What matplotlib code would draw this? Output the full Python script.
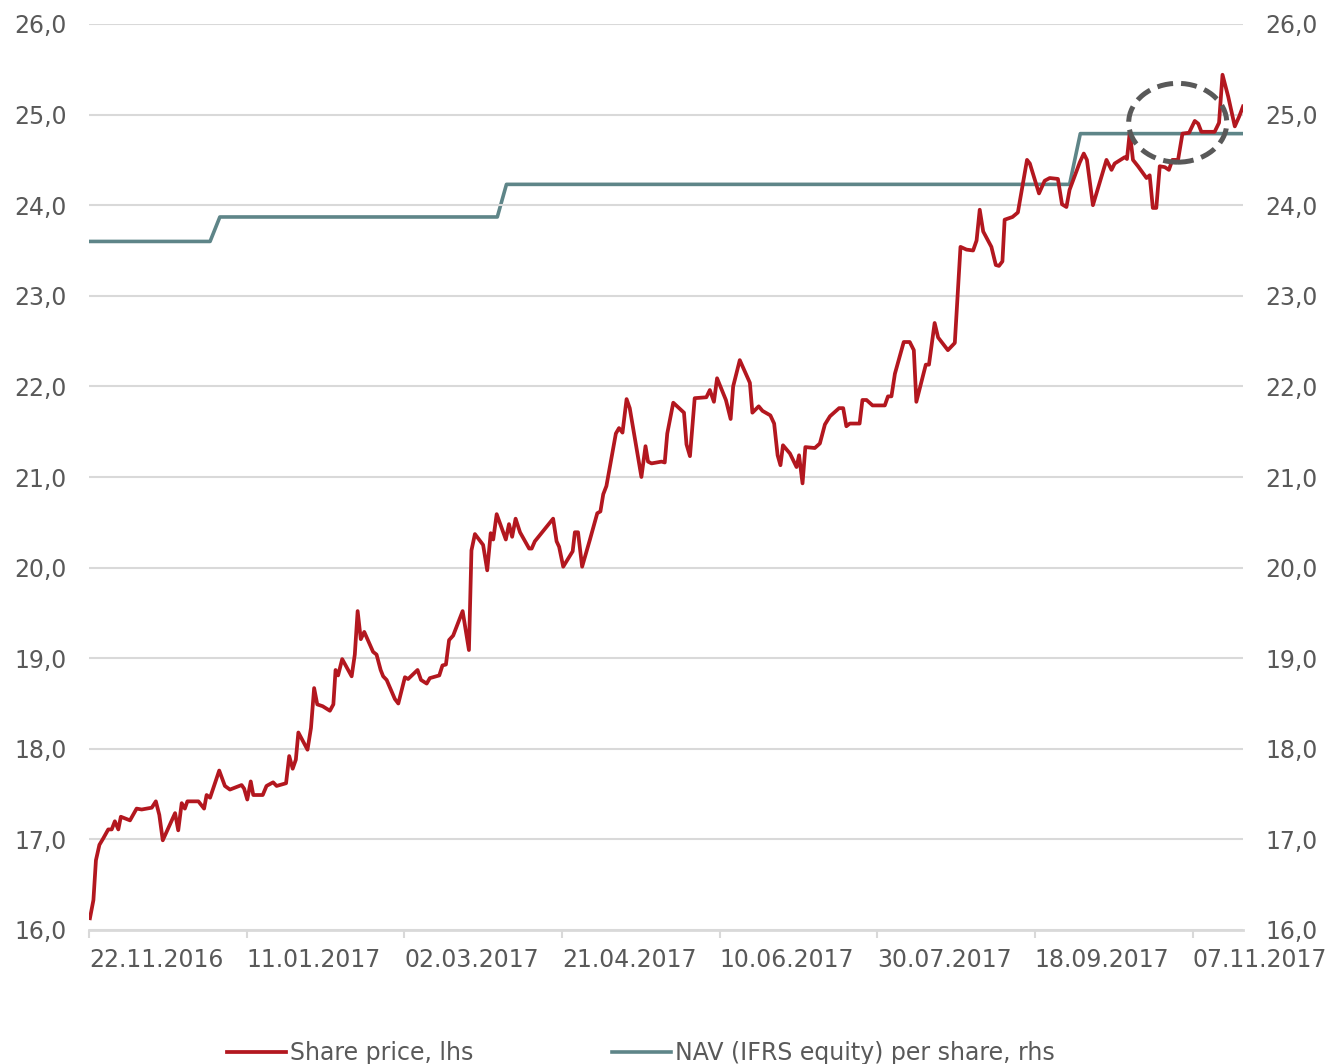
import matplotlib
matplotlib.use('Agg')
import matplotlib.pyplot as plt
from matplotlib.patches import Ellipse
from matplotlib.ticker import FuncFormatter

# days after 22.11.2016 and share price (lhs)
price_day = [0.3, 1.4, 2.2, 3.3, 4.5, 6.1, 7.2, 8.2, 9.3, 10.1, 13.0, 15.1, 16.7, 19.9, 21.2,
             22.3, 23.4, 27.3, 28.3, 29.4, 30.4, 31.2, 34.7, 36.5, 37.3, 38.4, 41.3, 43.1, 44.7,
             48.4, 49.2, 50.2, 51.3, 52.1, 55.1, 56.3, 58.4, 59.5, 62.5, 63.5, 64.6, 65.6, 66.4,
             69.3, 70.4, 71.4, 72.4, 74.1, 76.4, 77.5, 78.2, 79.0, 80.3, 83.3, 84.3, 85.2, 86.2,
             87.3, 90.1, 91.2, 92.5, 93.3, 94.4, 97.0, 98.1, 100.2, 101.2, 104.2, 105.3, 107.1,
             108.1, 111.1, 112.1, 113.2, 114.2, 115.5, 118.5, 120.5, 121.3, 122.4, 125.0, 126.3,
             127.4, 128.2, 129.3, 132.2, 133.2, 134.2, 135.3, 136.7, 139.6, 140.4, 141.4, 147.2,
             148.3, 149.1, 150.4, 153.4, 154.1, 155.1, 156.4, 158.8, 161.2, 162.2, 163.1, 164.1,
             167.1, 168.1, 169.2, 170.5, 171.5, 175.2, 176.5, 177.3, 178.4, 181.6, 182.6, 183.4,
             185.3, 188.7, 189.5, 190.6, 192.1, 195.8, 196.9, 198.2, 199.2, 202.0, 203.5, 204.3,
             206.4, 209.6, 210.4, 212.4, 213.6, 216.1, 217.3, 218.4, 219.3, 220.1, 222.3, 224.4,
             225.2, 226.3, 227.2, 230.2, 231.8, 233.4, 235.0, 237.9, 239.2, 240.2, 241.3, 244.4,
             245.3, 246.6, 248.5, 252.4, 253.4, 254.5, 255.6, 258.4, 260.3, 261.6, 262.4, 265.4,
             266.4, 268.2, 269.3, 272.4, 274.6, 276.4, 278.3, 280.4, 281.5, 282.5, 283.6, 286.2,
             287.6, 288.6, 289.7, 290.4, 292.9, 294.6, 297.5, 298.4, 301.3, 303.1, 304.7, 307.3,
             308.6, 310.0, 311.0, 314.2, 315.5, 316.5, 318.4, 322.7, 324.3, 325.3, 328.5, 329.2,
             330.1, 331.1, 332.7, 335.4, 336.4, 337.4, 338.5, 339.6, 341.2, 342.5, 343.6, 345.4,
             346.8, 348.9, 350.7, 351.8, 352.8, 357.0, 358.4, 359.5, 361.3, 363.4, 364.8, 366.0]
price = [16.13, 16.33, 16.77, 16.94, 17.01, 17.11, 17.11, 17.20, 17.11, 17.25, 17.21, 17.34, 17.33,
         17.35, 17.42, 17.27, 16.99, 17.29, 17.10, 17.40, 17.34, 17.42, 17.42, 17.34, 17.49, 17.46,
         17.76, 17.59, 17.55, 17.60, 17.56, 17.44, 17.64, 17.49, 17.49, 17.59, 17.63, 17.59, 17.62,
         17.92, 17.78, 17.88, 18.18, 17.99, 18.23, 18.67, 18.49, 18.47, 18.42, 18.49, 18.87, 18.81,
         18.99, 18.80, 19.04, 19.52, 19.21, 19.29, 19.07, 19.04, 18.87, 18.80, 18.76, 18.55, 18.50,
         18.79, 18.77, 18.87, 18.76, 18.72, 18.78, 18.81, 18.92, 18.93, 19.20, 19.25, 19.52, 19.09,
         20.19, 20.37, 20.25, 19.97, 20.38, 20.31, 20.59, 20.31, 20.48, 20.34, 20.54, 20.39, 20.21,
         20.21, 20.29, 20.54, 20.29, 20.23, 20.01, 20.18, 20.39, 20.39, 20.01, 20.30, 20.60, 20.62,
         20.81, 20.90, 21.48, 21.54, 21.49, 21.86, 21.76, 21.00, 21.34, 21.17, 21.15, 21.17, 21.16,
         21.48, 21.82, 21.71, 21.36, 21.23, 21.87, 21.88, 21.96, 21.83, 22.09, 21.85, 21.64, 22.00,
         22.29, 22.04, 21.71, 21.78, 21.73, 21.68, 21.59, 21.24, 21.13, 21.35, 21.26, 21.11, 21.24,
         20.93, 21.33, 21.32, 21.37, 21.58, 21.67, 21.76, 21.76, 21.56, 21.59, 21.59, 21.85, 21.85,
         21.79, 21.79, 21.89, 21.89, 22.14, 22.49, 22.49, 22.40, 21.83, 22.24, 22.24, 22.70, 22.54,
         22.40, 22.48, 23.54, 23.51, 23.50, 23.61, 23.95, 23.71, 23.54, 23.34, 23.33, 23.38, 23.84,
         23.87, 23.92, 24.50, 24.46, 24.13, 24.27, 24.30, 24.29, 24.01, 23.98, 24.17, 24.47, 24.57,
         24.50, 24.00, 24.50, 24.39, 24.46, 24.53, 24.51, 24.81, 24.50, 24.43, 24.30, 24.33, 23.97,
         23.97, 24.43, 24.42, 24.39, 24.50, 24.50, 24.79, 24.80, 24.93, 24.90, 24.81, 24.81, 24.91,
         25.44, 25.20, 24.87, 24.98, 25.09]

# NAV (IFRS equity) per share (rhs), break points
nav_day = [0.0, 38.4, 41.5, 129.5, 132.4, 311.0, 314.4, 366.0]
nav = [23.60, 23.60, 23.87, 23.87, 24.23, 24.23, 24.79, 24.79]

tick_days = [0, 50, 100, 150, 200, 250, 300, 350]
tick_labels = ['22.11.2016', '11.01.2017', '02.03.2017', '21.04.2017',
               '10.06.2017', '30.07.2017', '18.09.2017', '07.11.2017']

red = '#B3171F'
teal = '#5E8588'
grey_txt = '#595959'
grid = '#D9D9D9'

plt.rcParams['font.family'] = ['DejaVu Sans']
fs = 17

fig = plt.figure(figsize=(13.28, 10.64), dpi=100)
ax = fig.add_axes([89 / 1328, 1 - 930 / 1064, (1243 - 89) / 1328, (930 - 24) / 1064])
ax2 = ax.twinx()

l1, = ax.plot(price_day, price, color=red, lw=2.7, solid_joinstyle='round', zorder=3,
              label='Share price, lhs')
l2, = ax2.plot(nav_day, nav, color=teal, lw=2.6, zorder=2,
               label='NAV (IFRS equity) per share, rhs')
ax.set_zorder(ax2.get_zorder() + 1)
ax.patch.set_visible(False)

fmt = FuncFormatter(lambda v, p: ('%.1f' % v).replace('.', ','))
for a in (ax, ax2):
    a.set_xlim(0, 366)
    a.set_ylim(16, 26)
    a.set_yticks(range(16, 27))
    a.yaxis.set_major_formatter(fmt)
    a.tick_params(axis='y', length=0, labelsize=fs, labelcolor=grey_txt, pad=16)
    for s in a.spines.values():
        s.set_visible(False)

ax.yaxis.grid(True, color=grid, lw=1.5)
ax.set_axisbelow(True)
ax.spines['bottom'].set_visible(True)
ax.spines['bottom'].set_color(grid)
ax.spines['bottom'].set_linewidth(2)

ax.set_xticks(tick_days)
ax.set_xticklabels(tick_labels)
ax.tick_params(axis='x', length=6, width=1.5, color=grid, labelsize=fs,
               labelcolor=grey_txt, pad=7)
for lab in ax.get_xticklabels():
    lab.set_ha('left')

# dashed circle marking the latest price vs NAV
ell = Ellipse((345.3, 24.91), 31.1, 0.87, fill=False, ec='#595959', lw=3.6,
              ls=(0, (3.2, 1.6)), zorder=5)
ax.add_patch(ell)

fig.legend(handles=[l1, l2], loc='center', bbox_to_anchor=(641 / 1328, 1 - 1053 / 1064),
           ncol=2, frameon=False, fontsize=fs, handlelength=2.5, handletextpad=0.15,
           columnspacing=5.9, labelcolor=grey_txt)

fig.savefig('out.png', dpi=100)
